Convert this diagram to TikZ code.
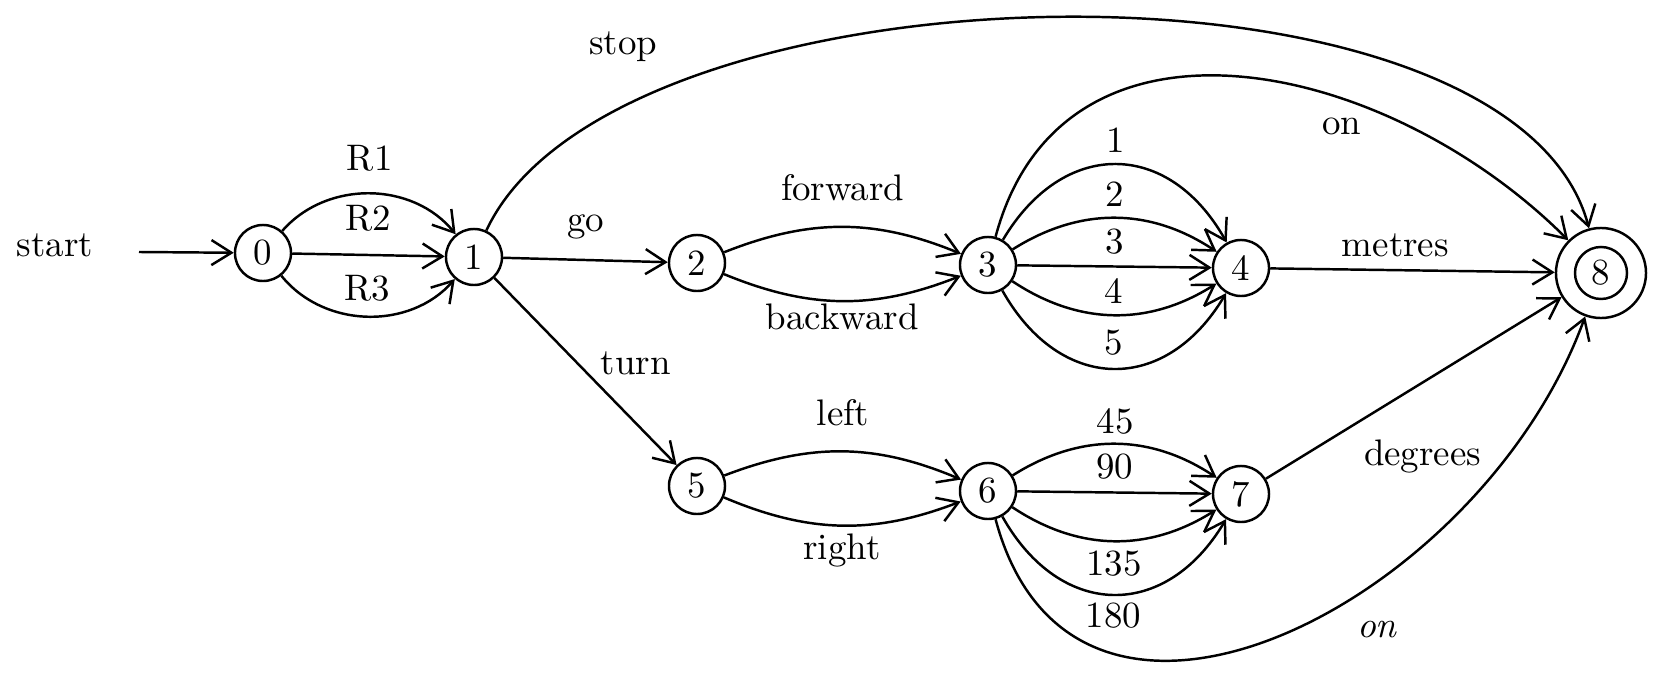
\documentclass[tikz,border=0pt]{standalone}
\usepackage{tikz}
\usetikzlibrary{arrows.meta, positioning}

\tikzset{
  state/.style={circle, draw, line width=0.7pt, minimum size=0.56cm, inner sep=0pt},
  finalstate/.style={circle, draw, line width=0.7pt, minimum size=0.9cm, inner sep=0pt,
    path picture={\draw[line width=0.7pt] (path picture bounding box.center) circle[radius=0.26cm];}},
}

\begin{document}
\begin{tikzpicture}[
  x=0.01cm,y=0.01cm,
  font=\fontsize{10.5}{12}\selectfont,
  trans/.style={-{Straight Barb[length=2mm,width=2.5mm]}, line width=0.7pt},
  lbl/.style={inner sep=0pt}
]

\useasboundingbox (0,0) rectangle (1653,-676);

% ---- states at fixed positions ----
\node[state]      (n0) at ( 263,-253) {0};
\node[state]      (n1) at ( 474,-257) {1};
\node[state]      (n2) at ( 697,-263) {2};
\node[state]      (n3) at ( 988,-265) {3};
\node[state]      (n4) at (1241,-268) {4};
\node[finalstate] (n8) at (1601,-273) {8};
\node[state]      (n5) at ( 697,-486) {5};
\node[state]      (n6) at ( 988,-491) {6};
\node[state]      (n7) at (1241,-494) {7};

\node (start) at (55,-245) {start};
\coordinate (s0) at (139,-252);

% ---- transitions ----
\draw[trans] (s0) -- (n0);

\draw[trans] (n0) to[bend left=50]  node[lbl, above=6pt] {R1} (n1);
\draw[trans] (n0) --                node[lbl, above=6.5pt] {R2} (n1);
\draw[trans] (n0) to[bend right=50] node[lbl, above=4pt] {R3} (n1);

\draw[trans] (n1) -- node[lbl, above=5.5pt] {go} (n2);
\draw[trans] (n1) -- node[lbl, above right=2pt, pos=0.55] {turn} (n5);
\draw[trans] (n1) to[out=65, in=105, looseness=0.7] node[lbl, above left=7pt and 2pt, pos=0.22] {stop} (n8);

\draw[trans] (n2) to[bend left=22]  node[lbl, above=7pt] {forward} (n3);
\draw[trans] (n2) to[bend right=22] node[lbl, below=0.5pt] {backward} (n3);

\draw[trans] (n3) to[bend left=60, looseness=1.35]  node[lbl, above=3pt] {1} (n4);
\draw[trans] (n3) to[bend left=33]                  node[lbl, above=3pt] {2} (n4);
\draw[trans] (n3) --                                node[lbl, above=3pt] {3} (n4);
\draw[trans] (n3) to[bend right=33]                 node[lbl, above=3pt] {4} (n4);
\draw[trans] (n3) to[bend right=60, looseness=1.35] node[lbl, above=3.5pt] {5} (n4);
\draw[trans] (n3) to[out=75, in=135, looseness=1.15] node[lbl, below=5pt, pos=0.65] {on} (n8);
\draw[trans] (n4) -- node[lbl, above=3.5pt, pos=0.44] {metres} (n8);

\draw[trans] (n5) to[bend left=22]  node[lbl, above=7pt] {left} (n6);
\draw[trans] (n5) to[bend right=22] node[lbl, below=2pt] {right} (n6);

\draw[trans] (n6) to[bend left=33]                  node[lbl, above=2.5pt] {45} (n7);
\draw[trans] (n6) --                                node[lbl, above=3.5pt] {90} (n7);
\draw[trans] (n6) to[bend right=33]                 node[lbl, below=2.5pt] {135} (n7);
\draw[trans] (n6) to[bend right=60, looseness=1.35] node[lbl, below=2pt] {180} (n7);
\draw[trans] (n6) to[out=-75, in=-110, looseness=1.25] node[lbl, below=11pt, pos=0.63] {\textit{on}} (n8);
\draw[trans] (n7) -- node[lbl, below=16pt, pos=0.53] {degrees} (n8);

\end{tikzpicture}
\end{document}
